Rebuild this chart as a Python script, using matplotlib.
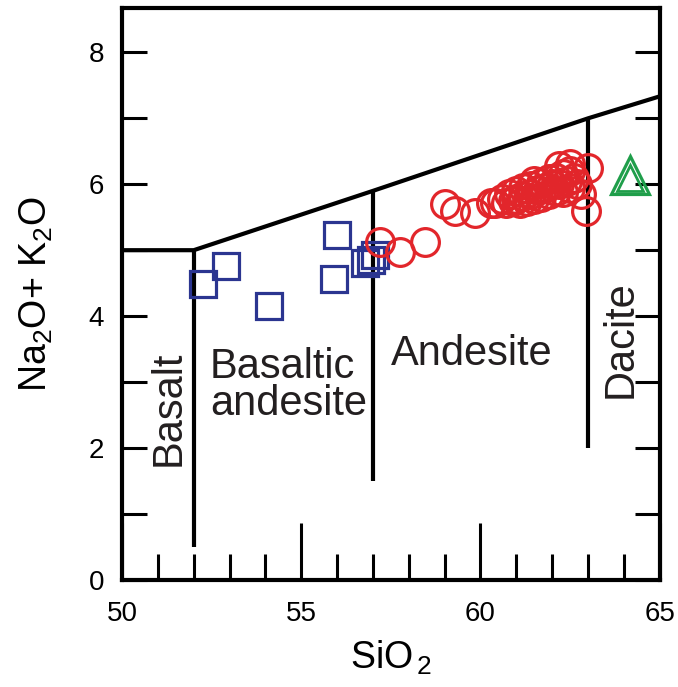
import matplotlib
matplotlib.use("Agg")
import matplotlib.pyplot as plt
from matplotlib.ticker import MultipleLocator, FixedLocator

plt.rcParams['font.family'] = ['Liberation Sans', 'DejaVu Sans']
plt.rcParams['mathtext.fontset'] = 'custom'
plt.rcParams['mathtext.rm'] = 'Liberation Sans'
plt.rcParams['mathtext.it'] = 'Liberation Sans'
plt.rcParams['mathtext.default'] = 'regular'

# ---- data ----
sq_sio2 = [52.26, 52.91, 54.11, 56.01, 55.92, 56.78, 56.94, 57.07]
sq_alk = [4.48, 4.76, 4.16, 5.23, 4.57, 4.80, 4.85, 4.92]

ci_sio2 = [57.2, 57.75, 58.45, 59.0, 59.3, 59.85, 60.3,
           60.4, 60.6, 60.7, 60.8, 60.9, 61.0, 61.0, 61.1, 61.2, 61.2,
           61.3, 61.4, 61.4, 61.5, 61.5, 61.6, 61.7, 61.7, 61.8, 61.9,
           61.9, 62.0, 62.1, 62.1, 62.2, 62.3, 62.3, 62.4, 62.5, 62.5,
           62.6, 62.7, 62.2, 62.5, 63.0, 62.95, 62.8]
ci_alk = [5.12, 4.97, 5.12, 5.70, 5.60, 5.57, 5.72,
          5.72, 5.78, 5.72, 5.85, 5.75, 5.90, 5.78, 5.72, 5.95, 5.82,
          5.75, 5.98, 5.85, 6.05, 5.78, 5.92, 6.02, 5.80, 5.95, 6.08,
          5.85, 6.00, 6.10, 5.90, 6.00, 6.15, 5.88, 6.05, 6.20, 5.95,
          6.10, 6.00, 6.28, 6.30, 6.25, 5.60, 5.85]

tri_sio2 = [64.18, 64.16]
tri_alk = [6.14, 6.10]

# TAS field boundaries
top_x = [50, 52, 57, 63, 69]
top_y = [5.0, 5.0, 5.9, 7.0, 8.0]
vline_x = [52, 57, 63]
vline_lo = [0.5, 1.5, 2.0]
vline_hi = [5.0, 5.9, 7.0]

field_names = ["Basalt", "Basaltic\nandesite", "Andesite", "Dacite"]
field_x = [51.3, 52.45, 57.5, 63.9]
field_y = [2.6, 2.95, 3.42, 3.65]
field_rot = [90, 0, 0, 90]

xticks_major = [50, 55, 60, 65]
yticks_major = [0, 2, 4, 6, 8]

# ---- plot ----
fig = plt.figure(figsize=(6.78, 6.87), dpi=100)
ax = fig.add_axes([0.18, 0.156, 0.793, 0.832])

lc = 'black'
lw = 3.0
ax.plot(top_x, top_y, color=lc, lw=lw, solid_capstyle='butt', zorder=2)
for x, lo, hi in zip(vline_x, vline_lo, vline_hi):
    ax.plot([x, x], [lo, hi], color=lc, lw=lw, solid_capstyle='butt', zorder=2)

ax.plot(sq_sio2, sq_alk, ls='none', marker='s', ms=18.5, mfc='none',
        mec='#2b3590', mew=2.3, zorder=3)
ax.plot(ci_sio2, ci_alk, ls='none', marker='o', ms=20, mfc='none',
        mec='#e2262b', mew=2.3, zorder=4)
ax.plot(tri_sio2[:1], tri_alk[:1], ls='none', marker='^', ms=27, mfc='none',
        mec='#1f9e4a', mew=2.3, zorder=5)
ax.plot(tri_sio2[1:], tri_alk[1:], ls='none', marker='^', ms=19, mfc='none',
        mec='#1f9e4a', mew=2.0, zorder=5)

for name, x, y, r in zip(field_names, field_x, field_y, field_rot):
    ax.text(x, y, name, rotation=r, fontsize=30,
            ha='center' if r == 90 else 'left', va='center',
            linespacing=0.92, color='#231f20', zorder=6)

ax.set_xlim(50, 65)
ax.set_ylim(0, 8.67)

ax.xaxis.set_major_locator(FixedLocator(xticks_major))
ax.xaxis.set_minor_locator(MultipleLocator(1))
ax.yaxis.set_major_locator(FixedLocator(yticks_major))
ax.yaxis.set_minor_locator(MultipleLocator(1))

ax.tick_params(axis='x', which='major', direction='in', length=41, width=2.2,
               top=False, labelsize=20, pad=15, color=lc)
ax.tick_params(axis='x', which='minor', direction='in', length=19, width=2.2,
               top=False, color=lc)
ax.tick_params(axis='y', which='both', direction='in', length=18, width=2.2,
               left=True, right=True, labelsize=20, pad=13, color=lc)

for s in ax.spines.values():
    s.set_linewidth(3.0)

ax.set_xlabel(r'SiO$_{\,2}$', fontsize=27, labelpad=9)
ax.set_ylabel(r'Na$_2$O+ K$_2$O', fontsize=27, labelpad=24)

fig.savefig('out.png', dpi=100)
